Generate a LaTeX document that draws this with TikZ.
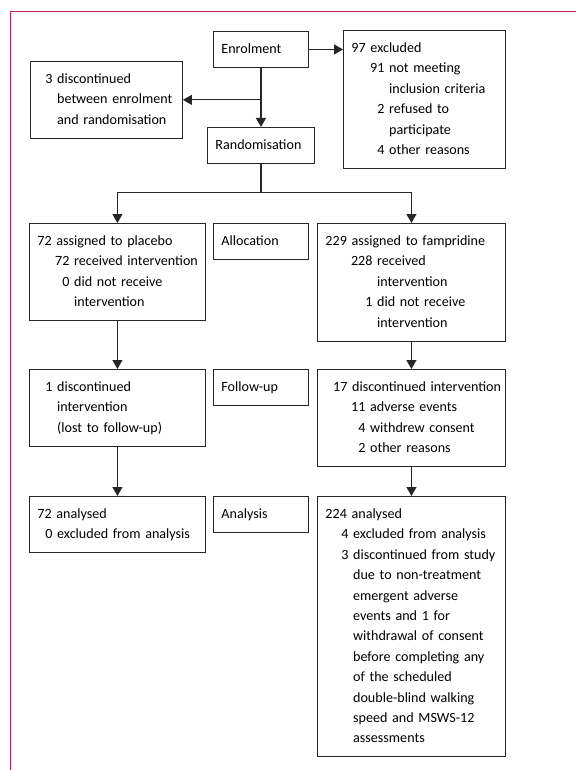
\documentclass[tikz,border=0pt]{standalone}
\usepackage{fontspec}
\setmainfont{Carlito}
\usetikzlibrary{arrows.meta}
\definecolor{lancetred}{RGB}{192,32,78}
\newcommand{\rows}[1]{\begin{tabular}{@{}l@{}}#1\end{tabular}}
\newcommand{\cnt}[2]{\makebox[#1][r]{#2}\ }
\tikzset{
  box/.style={draw=black!85, line width=0.9pt, anchor=north west, inner xsep=8pt, inner ysep=7.8pt, text=black},
  link/.style={draw=black!85, line width=1.1pt, -{Triangle[length=9pt,width=10pt]}},
}

\begin{document}
\begin{tikzpicture}[x=1pt, y=-1pt, font=\fontsize{14.1}{20.4}\selectfont]
  \useasboundingbox (0,0) rectangle (576,770);
  \draw[lancetred, line width=1.3pt] (10.5,770) -- (10.5,11.5) -- (576,11.5);

  % enrolment and randomisation
  \node[box, text width=79pt] (enrol) at (213,31) {\rows{Enrolment}};
  \node[box, text width=146pt] (excl) at (343,30) {\rows{97 excluded\\
    \cnt{33pt}{91}not meeting\\ \cnt{33pt}{}inclusion criteria\\
    \cnt{33pt}{2}refused to\\ \cnt{33pt}{}participate\\
    \cnt{33pt}{4}other reasons}};
  \node[box, text width=136pt] (disc3) at (30,61) {\rows{\cnt{14pt}{3}discontinued\\
    \cnt{14pt}{}between enrolment\\ \cnt{14pt}{}and randomisation}};
  \node[box, text width=91pt] (rand) at (207,127) {\rows{Randomisation}};

  % allocation
  \node[box, text width=160pt] (placebo) at (29,223) {\rows{72 assigned to placebo\\
    \cnt{32pt}{72}received intervention\\ \cnt{32pt}{0}did not receive\\
    \cnt{32pt}{}intervention}};
  \node[box, text width=79pt] (alloc) at (213,223) {\rows{Allocation}};
  \node[box, text width=172pt] (famp) at (317,223) {\rows{229 assigned to fampridine\\
    \cnt{47pt}{228}received\\ \cnt{47pt}{}intervention\\
    \cnt{47pt}{1}did not receive\\ \cnt{47pt}{}intervention}};

  % follow-up
  \node[box, text width=160pt] (lost) at (29,369) {\rows{\cnt{15pt}{1}discontinued\\
    \cnt{15pt}{}intervention\\ \cnt{15pt}{}(lost to follow-up)}};
  \node[box, text width=79pt] (follow) at (213,369) {\rows{Follow-up}};
  \node[box, text width=172pt] (stop17) at (317,369) {\rows{\cnt{22pt}{17}discontinued intervention\\
    \cnt{40pt}{11}adverse events\\ \cnt{40pt}{4}withdrew consent\\
    \cnt{40pt}{2}other reasons}};

  % analysis
  \node[box, text width=160pt] (anal72) at (29,496) {\rows{72 analysed\\
    \cnt{15pt}{0}excluded from analysis}};
  \node[box, text width=79pt] (analysis) at (213,496) {\rows{Analysis}};
  \node[box, text width=172pt] (anal224) at (317,496) {\rows{224 analysed\\
    \cnt{23pt}{4}excluded from analysis\\ \cnt{23pt}{3}discontinued from study\\
    \cnt{23pt}{}due to non-treatment\\ \cnt{23pt}{}emergent adverse\\
    \cnt{23pt}{}events and 1 for\\ \cnt{23pt}{}withdrawal of consent\\
    \cnt{23pt}{}before completing any\\ \cnt{23pt}{}of the scheduled\\
    \cnt{23pt}{}double-blind walking\\ \cnt{23pt}{}speed and MSWS-12\\
    \cnt{23pt}{}assessments}};

  % connectors
  \draw[link] (enrol.east) -- (enrol.east -| excl.west);
  \draw[link] (enrol.south) -- (rand.north);
  \draw[link] (enrol.south |- disc3.east) -- (disc3.east);
  \draw[link, -] (rand.south) -- ++(0,29) coordinate (split);
  \draw[link] (split) -| (placebo.north);
  \draw[link] (split) -| (famp.north);
  \foreach \from/\to in {placebo/lost, famp/stop17, lost/anal72, stop17/anal224}
    \draw[link] (\from.south) -- (\to.north);
\end{tikzpicture}
\end{document}
